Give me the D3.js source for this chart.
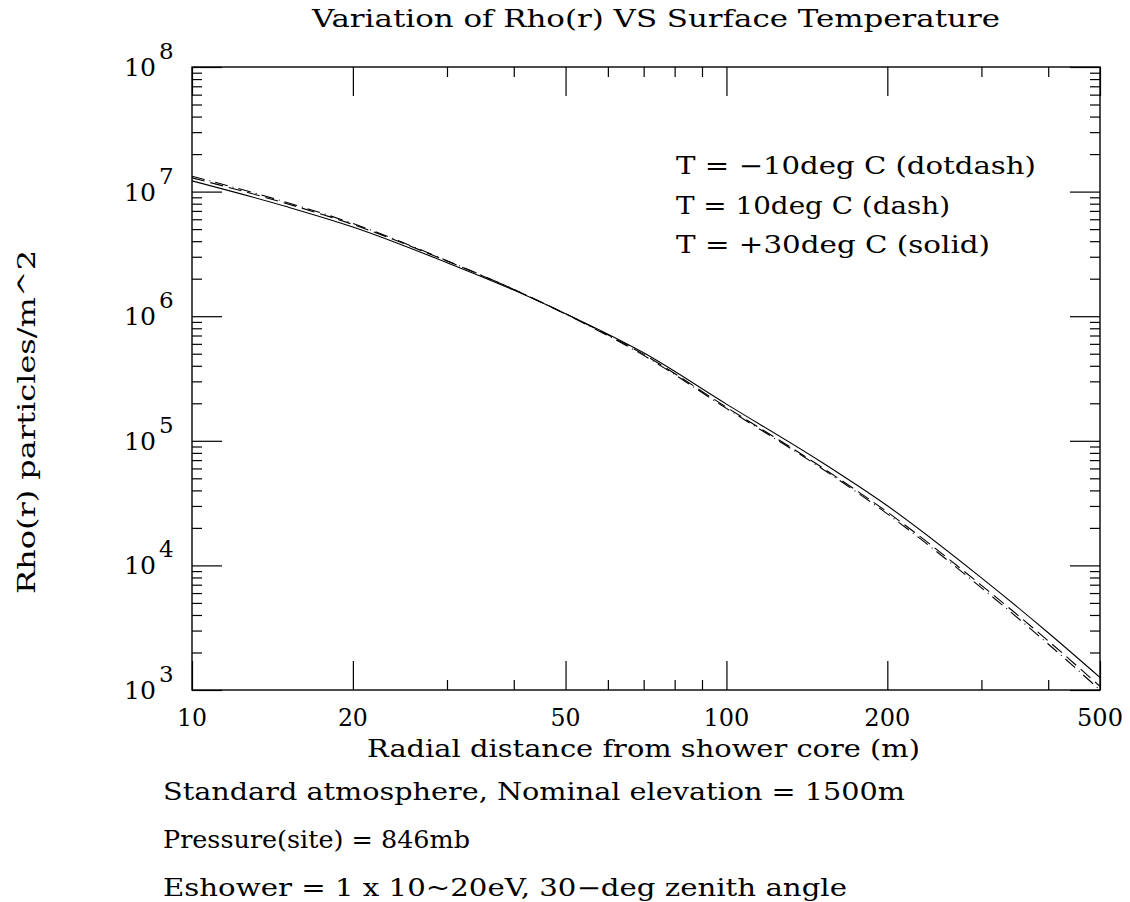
<!DOCTYPE html>
<html>
<head>
<meta charset="utf-8">
<script src="https://cdn.jsdelivr.net/npm/d3@7"></script>
<style>
  body { margin: 0; background: #fff; }
  text { font-family: "DejaVu Serif", serif; fill: #000; }
</style>
</head>
<body>
<div id="chart"></div>
<script>
// Radial distances (m) and densities
const radius = [10, 15, 20, 30, 40, 50, 70, 100, 150, 200, 300, 400, 500];
const rhoSolid = [1.22e7, 7.59e6, 5.20e6, 2.69e6, 1.62e6, 1.047e6, 5.08e5, 1.97e5, 6.82e4, 3.01e4, 7.94e3, 2.88e3, 1.26e3];
const rhoDash = [1.29e7, 8.04e6, 5.45e6, 2.77e6, 1.64e6, 1.047e6, 4.94e5, 1.86e5, 6.22e4, 2.68e4, 6.92e3, 2.48e3, 1.07e3];
const rhoDotDash = [1.33e7, 8.22e6, 5.55e6, 2.79e6, 1.64e6, 1.04e6, 4.85e5, 1.82e5, 6.08e4, 2.59e4, 6.61e3, 2.34e3, 1.0e3];

const xMajor = [10, 20, 50, 100, 200, 500];
const xMinor = [30, 40, 60, 70, 80, 90, 300, 400];
const yExponents = [3, 4, 5, 6, 7, 8];

const legendLabels = ["T = \u221210deg C (dotdash)", "T = 10deg C (dash)", "T = +30deg C (solid)"];
const notes = ["Standard atmosphere, Nominal elevation = 1500m", "Pressure(site) = 846mb", "Eshower = 1 x 10~20eV, 30\u2212deg zenith angle"];

const width = 1130, height = 902,
    margin = ({ top: 67, right: 30, bottom: 212, left: 192 });

const svg = d3.select("#chart")
    .append("svg")
    .attr("width", width)
    .attr("height", height);

let x = d3.scaleLog()
    .domain([10, 500])
    .range([margin.left, width - margin.right]);

let y = d3.scaleLog()
    .domain([1e3, 1e8])
    .range([height - margin.bottom, margin.top]);

const x0 = x.range()[0], x1 = x.range()[1], y0 = y.range()[0], y1 = y.range()[1];

// minor y ticks: 2..9 times each decade
let yMinor = [];
for (let e = 3; e < 8; e++) {
    for (let k = 2; k <= 9; k++) yMinor.push(k * Math.pow(10, e));
}
let yMajor = yExponents.map(e => Math.pow(10, e));

function tickAxis(axis, values, size, transform) {
    let g = svg.append("g")
        .attr("transform", transform)
        .call(axis.tickValues(values).tickSize(size).tickSizeOuter(0).tickFormat(""));
    g.select(".domain").remove();
    g.selectAll("line").attr("stroke", "#000").attr("stroke-width", 1.2);
    return g;
}

// ticks point inward on all four sides
tickAxis(d3.axisBottom(x), xMajor, -29, `translate(0,${y0})`);
tickAxis(d3.axisBottom(x), xMinor, -10, `translate(0,${y0})`);
tickAxis(d3.axisTop(x), xMajor, -29, `translate(0,${y1})`);
tickAxis(d3.axisTop(x), xMinor, -10, `translate(0,${y1})`);
tickAxis(d3.axisLeft(y), yMajor, -30, `translate(${x0},0)`);
tickAxis(d3.axisLeft(y), yMinor, -10, `translate(${x0},0)`);
tickAxis(d3.axisRight(y), yMajor, -30, `translate(${x1},0)`);
tickAxis(d3.axisRight(y), yMinor, -10, `translate(${x1},0)`);

// frame
svg.append("rect")
    .attr("x", x0).attr("y", y1)
    .attr("width", x1 - x0).attr("height", y0 - y1)
    .attr("fill", "none")
    .attr("stroke", "#000")
    .attr("stroke-width", 1.4);

// x tick labels
const xLabW = { 10: 30, 20: 30, 50: 30, 100: 46, 200: 46, 500: 46 };
svg.append("g")
    .selectAll("text")
    .data(xMajor)
    .join("text")
    .attr("x", d => x(d) - xLabW[d] / 2)
    .attr("y", y0 + 36)
    .attr("font-size", 24)
    .attr("textLength", d => xLabW[d])
    .attr("lengthAdjust", "spacingAndGlyphs")
    .text(d => d);

// y tick labels with superscript exponent
let yl = svg.append("g")
    .selectAll("text")
    .data(yExponents)
    .join("text")
    .attr("x", x0 - 68)
    .attr("y", d => y(Math.pow(10, d)) + 9)
    .attr("font-size", 24);
yl.append("tspan").attr("textLength", 32).attr("lengthAdjust", "spacingAndGlyphs").text("10");
yl.append("tspan")
    .attr("dx", 3)
    .attr("dy", -17)
    .attr("font-size", 23)
    .text(d => d);

// curves
let line = d3.line()
    .x((d, i) => x(radius[i]))
    .y(d => y(d))
    .curve(d3.curveMonotoneX);

svg.append("clipPath").attr("id", "plot-clip")
    .append("rect")
    .attr("x", x0).attr("y", y1)
    .attr("width", x1 - x0).attr("height", y0 - y1);

const series = [
    { values: rhoDotDash, dash: "13,5,1,5" },
    { values: rhoDash, dash: "13,6" },
    { values: rhoSolid, dash: null }
];

svg.append("g")
    .attr("clip-path", "url(#plot-clip)")
    .selectAll("path")
    .data(series)
    .join("path")
    .attr("d", d => line(d.values))
    .attr("fill", "none")
    .attr("stroke", "#000")
    .attr("stroke-width", 1.1)
    .attr("stroke-dasharray", d => d.dash);

// stretched text helper (wide plotter-style lettering)
function label(g, px, py, w, str) {
    return g.append("text")
        .attr("x", px)
        .attr("y", py)
        .attr("font-size", 24)
        .attr("textLength", w)
        .attr("lengthAdjust", "spacingAndGlyphs")
        .text(str);
}

// title
label(svg, 312, 27, 688, "Variation of Rho(r) VS Surface Temperature");

// legend
const legendW = [360, 274, 314];
legendLabels.forEach((s, i) => label(svg, 676, 174 + i * 39.5, legendW[i], s));

// x-axis label
label(svg, 367, 757, 553, "Radial distance from shower core (m)");

// y-axis label
label(svg, 0, 0, 344, "Rho(r) particles/m^2")
    .attr("transform", "translate(35,594) rotate(-90)");

// notes under the chart
const noteW = [742, 307, 684];
notes.forEach((s, i) => label(svg, 163, 800 + i * 48, noteW[i], s));
</script>
</body>
</html>
